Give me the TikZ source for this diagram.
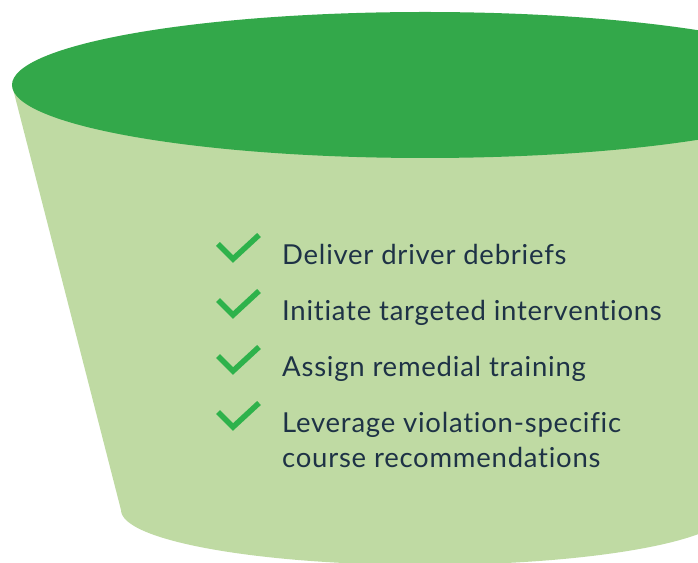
\documentclass[tikz,border=0pt]{standalone}
\usepackage{fontspec}
\setmainfont{Lato}[LetterSpace=2.8,Ligatures={NoCommon}]
\definecolor{topgreen}{HTML}{33A84A}
\definecolor{bodygreen}{HTML}{BFDAA3}
\definecolor{checkgreen}{HTML}{2EB24B}
\definecolor{textnavy}{HTML}{1E3246}
\tikzset{
  checkmark/.style={draw=checkgreen, line width=5.5pt, line cap=butt, line join=miter},
  item/.style={anchor=base west, inner sep=0pt, text=textnavy, font=\fontsize{27.5}{34}\selectfont, align=left}
}
\begin{document}
\begin{tikzpicture}[x=1pt,y=1pt]
\useasboundingbox (0,0) rectangle (698,562);
\clip (0,0) rectangle (698,562);
% body
\fill[bodygreen] (12,477) -- (121,52) arc[start angle=180, end angle=360, x radius=304, y radius=55] -- (838,477) -- cycle;
% top ellipse
\fill[topgreen] (425,477) ellipse [x radius=413, y radius=73];
% checks
\foreach \i/\dy in {1/0,2/56,3/112,4/168}{
  \coordinate (c\i a) at (218,562-244-\dy);
  \coordinate (c\i b) at (233,562-259-\dy);
  \coordinate (c\i c) at (259,562-235-\dy);
  \draw[checkmark] (c\i a) -- (c\i b) -- (c\i c);
}
\node[item] (t1) at (282,562-265) {Deliver driver debriefs};
\node[item] (t2) at (282,562-321) {Initiate targeted interventions};
\node[item] (t3) at (282,562-377) {Assign remedial training};
\node[item] (t4) at (282,562-433) {Leverage violation-specific};
\node[item] (t5) at (282,562-467) {course recommendations};
\end{tikzpicture}
\end{document}
